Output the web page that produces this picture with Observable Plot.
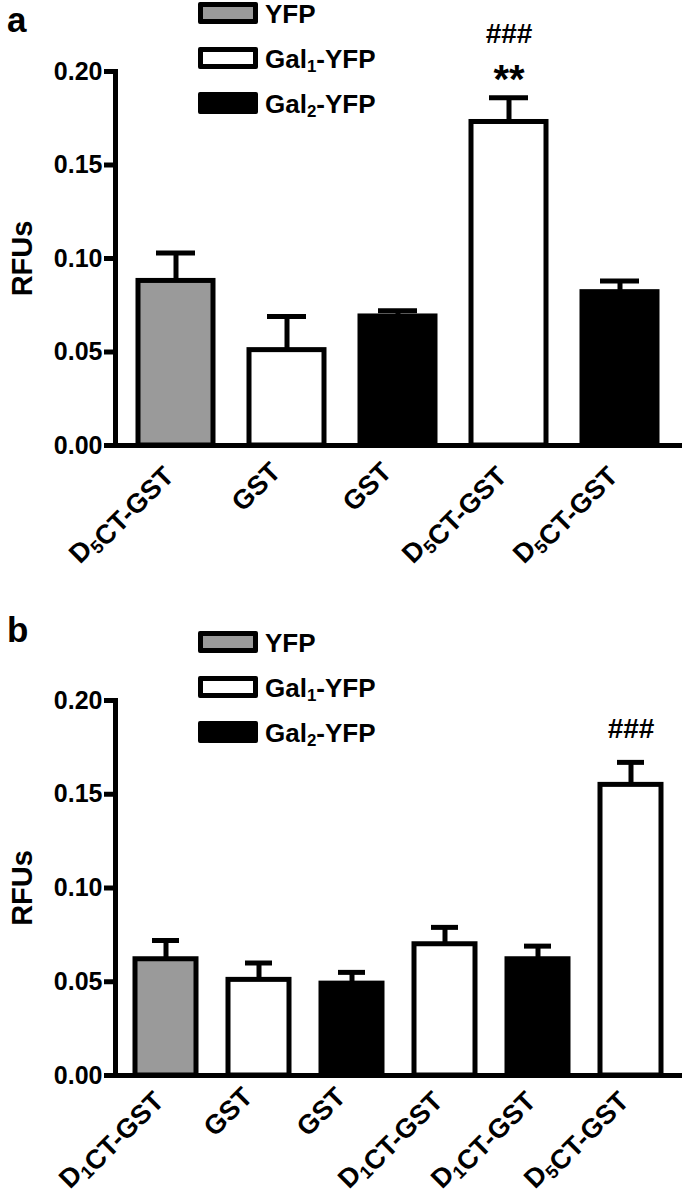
<!DOCTYPE html>
<html><head><meta charset="utf-8">
<script src="https://cdn.jsdelivr.net/npm/d3@7"></script>
<script src="https://cdn.jsdelivr.net/npm/@observablehq/plot@0.6"></script>
<style>
body{margin:0;background:#fff;font-family:"Liberation Sans",Arial,sans-serif;}
#fig{position:relative;width:682px;height:1200px;overflow:hidden;}
.panel{position:absolute;left:0;width:682px;height:600px;}
.letter{position:absolute;left:7px;font-weight:bold;font-size:35px;line-height:40px;}
.item{position:absolute;left:198px;height:22px;}
.sw{position:absolute;left:0;top:0;width:50px;height:12px;border:5px solid #000;border-radius:2px;}
.lab{position:absolute;left:67px;top:-1px;font-weight:bold;font-size:26px;line-height:26px;white-space:nowrap;}
.lab sub{font-size:65%;vertical-align:-0.22em;line-height:0;}
</style></head>
<body><div id="fig"></div>
<script>
// ---- data ----
const groups = ["YFP", "Gal₁-YFP", "Gal₂-YFP"];
const groupFills = ["#9a9a9a", "#ffffff", "#000000"];
const yTicks = [0, 0.05, 0.10, 0.15, 0.20];

const labelsA = ["D₅CT-GST", "GST", "GST", "D₅CT-GST", "D₅CT-GST"];
const groupA  = ["YFP", "Gal₁-YFP", "Gal₂-YFP", "Gal₁-YFP", "Gal₂-YFP"];
const meanA   = [0.088, 0.051, 0.069, 0.173, 0.082];
const semA    = [0.015, 0.018, 0.003, 0.013, 0.006];
const sigA    = [{bar: 3, text: "###"}, {bar: 3, text: "**"}];

const labelsB = ["D₁CT-GST", "GST", "GST", "D₁CT-GST", "D₁CT-GST", "D₅CT-GST"];
const groupB  = ["YFP", "Gal₁-YFP", "Gal₂-YFP", "Gal₁-YFP", "Gal₂-YFP", "Gal₁-YFP"];
const meanB   = [0.062, 0.051, 0.049, 0.070, 0.062, 0.155];
const semB    = [0.010, 0.009, 0.006, 0.009, 0.007, 0.012];
const sigB    = [{bar: 5, text: "###"}];

const fig = document.getElementById("fig");
const FONT = "Liberation Sans, Arial, sans-serif";
const SUB = {"₀":"0","₁":"1","₂":"2","₃":"3","₄":"4","₅":"5","₆":"6","₇":"7","₈":"8","₉":"9"};

// turn Unicode subscript digits into real shifted tspans
function subscriptify(svg) {
  svg.querySelectorAll("text").forEach(t => {
    const s = t.textContent;
    if (!/[₀-₉]/.test(s)) return;
    const fs = parseFloat(getComputedStyle(t).fontSize) || 20;
    while (t.firstChild) t.removeChild(t.firstChild);
    let buf = "";
    const flush = () => { if (buf) { const n = document.createElementNS("http://www.w3.org/2000/svg", "tspan"); n.textContent = buf; t.appendChild(n); buf = ""; } };
    for (const ch of s) {
      if (SUB[ch]) {
        flush();
        const a = document.createElementNS("http://www.w3.org/2000/svg", "tspan");
        a.setAttribute("font-size", fs * 0.68);
        a.setAttribute("dy", fs * 0.22);
        a.textContent = SUB[ch];
        t.appendChild(a);
        const b = document.createElementNS("http://www.w3.org/2000/svg", "tspan");
        b.setAttribute("dy", -fs * 0.22);
        b.textContent = "";
        t.appendChild(b);
      } else buf += ch;
    }
    flush();
  });
}

function panel({letter, top, letterTop, labels, group, mean, sem, sig, marginTop, marginBottom, pInner, pOuter, capInset, sigDy, labelDx, labelDy}) {
  const rows = labels.map((l, i) => ({i, label: l, group: group[i], mean: mean[i], top: mean[i] + sem[i]}));
  const sigRows = sig.map(s => ({...s, y: rows[s.bar].top}));
  const chart = Plot.plot({
    width: 682, height: 600,
    marginLeft: 115, marginRight: 2, marginTop, marginBottom,
    style: {fontFamily: FONT, background: "transparent", overflow: "visible"},
    x: {type: "band", domain: rows.map(d => d.i), paddingInner: pInner, paddingOuter: pOuter, axis: null},
    y: {domain: [0, 0.2], axis: null},
    color: {domain: groups, range: groupFills},
    marks: [
      Plot.ruleX(rows, {x: "i", y1: "mean", y2: "top", stroke: "#000", strokeWidth: 5}),
      Plot.tickY(rows, {x: "i", y: "top", stroke: "#000", strokeWidth: 5, insetLeft: capInset, insetRight: capInset}),
      Plot.barY(rows, {x: "i", y: "mean", fill: "group", stroke: "#000", strokeWidth: 5, strokeLinejoin: "miter"}),
      Plot.axisY({ticks: yTicks, tickFormat: d3.format(".2f"), tickSize: 11, tickPadding: 2, strokeWidth: 5, fontSize: 25, fontWeight: "bold", label: null, fill: "#000"}),
      Plot.frame({anchor: "left", stroke: "#000", strokeWidth: 5}),
      Plot.ruleY([0], {stroke: "#000", strokeWidth: 5, strokeLinecap: "square"}),
      Plot.text(["RFUs"], {frameAnchor: "left", dx: -93, rotate: -90, textAnchor: "middle", lineAnchor: "middle", fontSize: 29, fontWeight: "bold", fill: "#000"}),
      Plot.text(rows, {x: "i", text: "label", frameAnchor: "bottom", rotate: -45, textAnchor: "end", lineAnchor: "middle", dx: labelDx, dy: labelDy, fontSize: 27, fontWeight: "bold", fill: "#000"}),
      ...sigRows.map((s, k) => Plot.text([s], {x: "bar", y: "y", text: "text", lineAnchor: "bottom", dy: sigDy[k], fontSize: s.text === "**" ? 40 : 28, fontWeight: "bold", fill: "#000"}))
    ]
  });
  const wrap = document.createElement("div");
  wrap.className = "panel";
  wrap.style.top = top + "px";
  wrap.appendChild(chart);
  const L = document.createElement("div");
  L.className = "letter"; L.textContent = letter; L.style.top = letterTop + "px";
  wrap.appendChild(L);
  groups.forEach((g, k) => {
    const it = document.createElement("div");
    it.className = "item";
    it.style.top = (marginTop - 69 + k * 45) + "px";
    const sw = document.createElement("div");
    sw.className = "sw"; sw.style.background = groupFills[k];
    const lab = document.createElement("div");
    lab.className = "lab";
    lab.innerHTML = g.replace(/[₀-₉]/g, c => "<sub>" + SUB[c] + "</sub>");
    it.appendChild(sw); it.appendChild(lab);
    wrap.appendChild(it);
  });
  fig.appendChild(wrap);
  subscriptify(chart);
}

panel({letter: "a", top: 0, letterTop: 0, labels: labelsA, group: groupA, mean: meanA, sem: semA, sig: sigA,
  marginTop: 71, marginBottom: 155, pInner: 0.324, pOuter: 0.207, capInset: 18, sigDy: [-55, -5], labelDx: -11, labelDy: 22});
panel({letter: "b", top: 600, letterTop: 10, labels: labelsB, group: groupB, mean: meanB, sem: semB, sig: sigB,
  marginTop: 100, marginBottom: 125, pInner: 0.346, pOuter: 0.2, capInset: 17, sigDy: [-24], labelDx: -11, labelDy: 17});
</script></body></html>
